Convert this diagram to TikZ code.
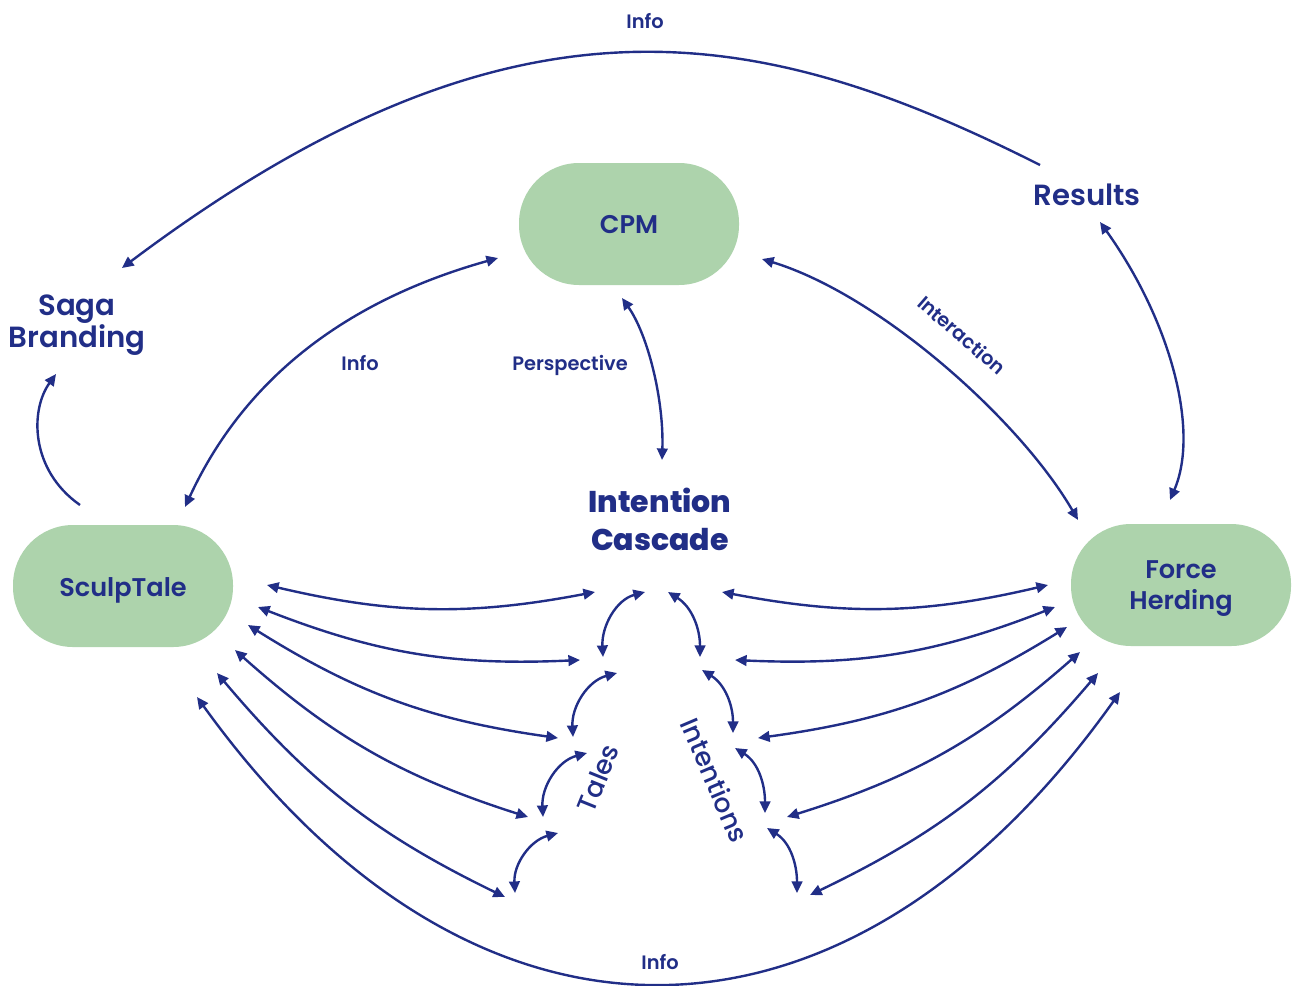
\documentclass[tikz,border=0pt]{standalone}
\usepackage{fontspec}
\setmainfont{Poppins}
\newfontfamily\pmed{Poppins Medium}
\newfontfamily\psemi{Poppins SemiBold}
\newfontfamily\pxbold{Poppins ExtraBold}
\usetikzlibrary{arrows.meta}
\definecolor{navy}{RGB}{33,46,135}
\definecolor{sage}{RGB}{173,211,172}

\begin{document}
\begin{tikzpicture}[x=0.5pt,y=0.5pt,
  >={Triangle[length=5.8pt,width=5.3pt]},
  link/.style={draw=navy, line width=1.2pt},
  both/.style={link, <->},
  tip/.style={link, ->},
  pill/.style={fill=sage, rounded corners=30pt, minimum width=110pt,
    minimum height=61pt},
  pilltext/.style={text=navy, align=center,
    font=\psemi\fontsize{12.8}{15.5}\selectfont},
  head/.style={text=navy, align=center, font=\psemi\fontsize{14.6}{16}\selectfont},
  cascade/.style={text=navy, align=center, font=\pxbold\fontsize{15}{19}\selectfont},
  tag/.style={text=navy, font=\psemi\fontsize{9.7}{11}\selectfont},
  flow/.style={text=navy, font=\pmed\fontsize{13.2}{15}\selectfont},
]
\useasboundingbox (0,0) rectangle (1293,-985);

% boxes and their captions
\node[pill] (cpm)   at (629,-224) {};
\node[pill] (sculp) at (123,-586) {};
\node[pill] (force) at (1181,-585) {};
\node[pilltext] (cpmtext)   at ([yshift=-0.5pt]cpm.center)   {CPM};
\node[pilltext] (sculptext) at ([yshift=-2pt]sculp.center)   {SculpTale};
\node[pilltext] (forcetext) at ([yshift=-2pt]force.center)   {Force\\Herding};

% free-standing headings
\node[head] (saga)    at (77,-325)  {Saga\\Branding};
\node[head] (results) at (1087,-195) {Results};
\node[cascade] (casc) at (660,-519) {Intention\\Cascade};

% edge labels
\node[tag] (infotop) at (645,-21)  {Info};
\node[tag] (infol)   at (360,-363) {Info};
\node[tag] (persp)   at (570,-365) {Perspective};
\node[tag, rotate=-41] (inter) at (962,-335) {Interaction};
\node[tag] (infobot) at (660,-962) {Info};
\node[flow, rotate=68]  (tales) at (598,-778) {Tales};
\node[flow, rotate=-67] (intent) at (715,-780) {Intentions};

% arrow end points
\coordinate (r0) at (1040,-165);  \coordinate (s0) at (122,-268);
\coordinate (b0) at (80,-505);    \coordinate (b1) at (56,-374);
\coordinate (li0) at (185,-507);  \coordinate (li1) at (498,-258);
\coordinate (p0) at (622,-298);   \coordinate (p1) at (662,-460);
\coordinate (i0) at (762,-259);   \coordinate (i1) at (1078,-520);
\coordinate (q0) at (1100,-222);  \coordinate (q1) at (1170,-500);
\coordinate (u0) at (197,-697);   \coordinate (u1) at (1120,-692);

\coordinate (l1a) at (267,-585); \coordinate (l1b) at (595,-592);
\coordinate (l2a) at (258,-607); \coordinate (l2b) at (580,-660);
\coordinate (l3a) at (248,-625); \coordinate (l3b) at (558,-738);
\coordinate (l4a) at (235,-650); \coordinate (l4b) at (528,-817);
\coordinate (l5a) at (217,-673); \coordinate (l5b) at (505,-897);

\coordinate (r1a) at (722,-592); \coordinate (r1b) at (1048,-585);
\coordinate (r2a) at (735,-660); \coordinate (r2b) at (1055,-607);
\coordinate (r3a) at (758,-738); \coordinate (r3b) at (1067,-627);
\coordinate (r4a) at (787,-817); \coordinate (r4b) at (1080,-652);
\coordinate (r5a) at (810,-895); \coordinate (r5b) at (1098,-673);

\coordinate (t1a) at (603,-657); \coordinate (t1b) at (645,-592);
\coordinate (t2a) at (573,-737); \coordinate (t2b) at (617,-673);
\coordinate (t3a) at (543,-817); \coordinate (t3b) at (587,-753);
\coordinate (t4a) at (515,-893); \coordinate (t4b) at (558,-833);

\coordinate (n1a) at (668,-592); \coordinate (n1b) at (700,-657);
\coordinate (n2a) at (702,-670); \coordinate (n2b) at (733,-733);
\coordinate (n3a) at (735,-748); \coordinate (n3b) at (765,-813);
\coordinate (n4a) at (767,-828); \coordinate (n4b) at (797,-893);

% large arcs
\draw[tip]  (r0) .. controls (762,-25) and (516,28) .. (s0);
\draw[tip]  (b0) .. controls (30,-470) and (30,-410) .. (b1);
\draw[both] (li0) .. controls (245,-377) and (348,-300) .. (li1);
\draw[both] (p0) .. controls (648,-335) and (664,-400) .. (p1);
\draw[both] (i0) .. controls (880,-295) and (1020,-420) .. (i1);
\draw[both] (q0) .. controls (1170,-320) and (1200,-430) .. (q1);
\draw[both] (u0) .. controls (472,-1079) and (845,-1079) .. (u1);

% fan towards the cascade
\foreach \k in {1,...,5}{
  \draw[both] (l\k a) to[bend right=12] (l\k b);
  \draw[both] (r\k a) to[bend right=12] (r\k b);
}

% steps of the cascade
\foreach \k in {1,...,4}{
  \draw[both] (t\k a) to[out=93,in=195] (t\k b);
  \draw[both] (n\k a) to[out=-32,in=90] (n\k b);
}
\end{tikzpicture}
\end{document}
